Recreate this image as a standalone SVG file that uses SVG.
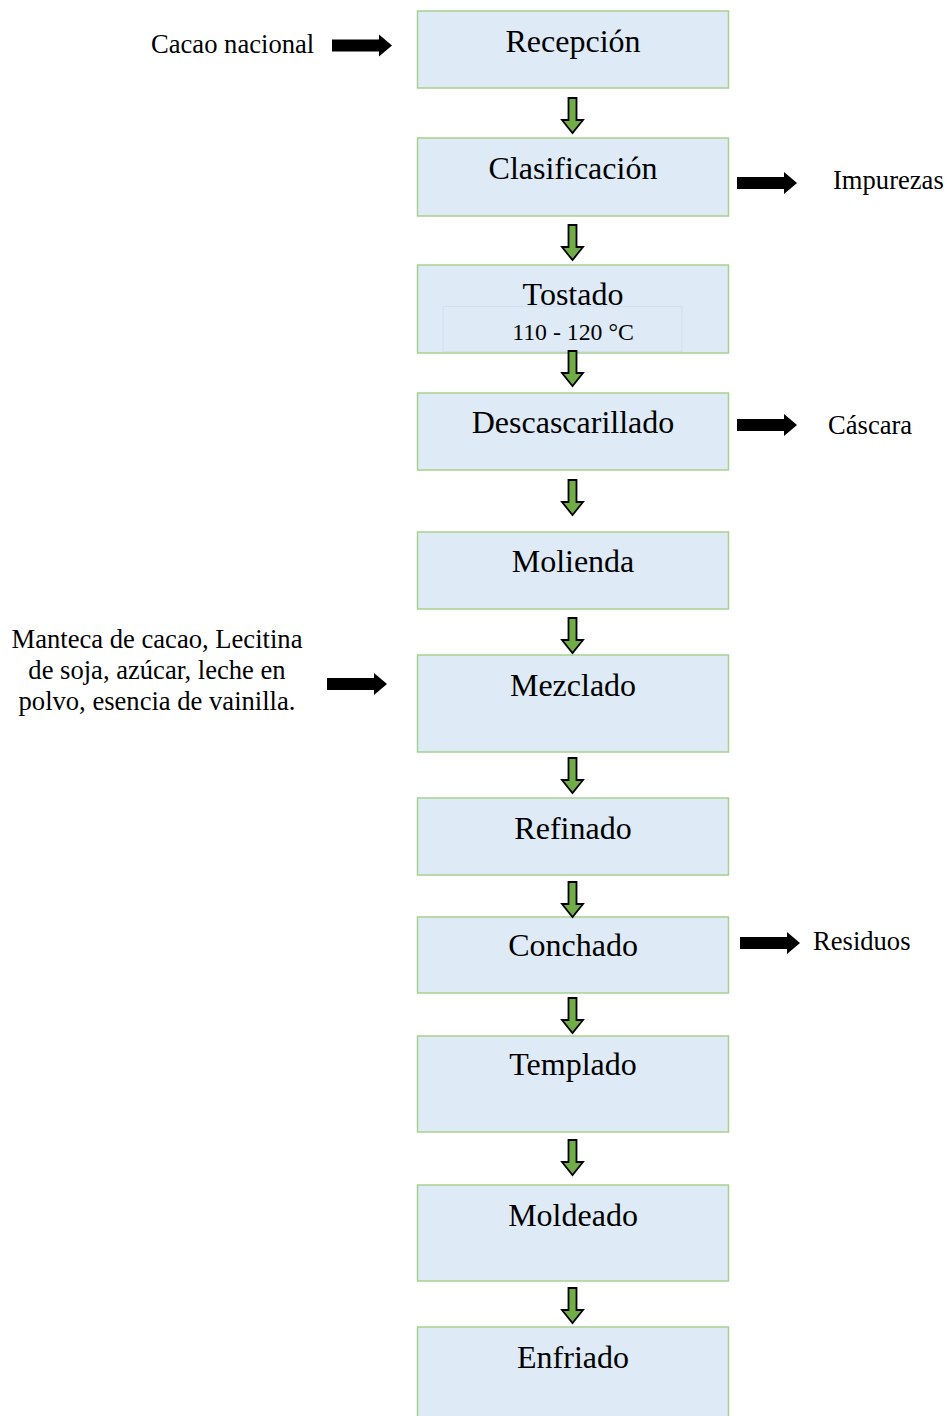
<svg xmlns="http://www.w3.org/2000/svg" xmlns:xlink="http://www.w3.org/1999/xlink" width="948" height="1416" viewBox="0 0 948 1416">
<style>
.box{fill:#DEEAF6;stroke:#A9D18E;stroke-width:1.5}
.inner{fill:none;stroke:#D3E0F0;stroke-width:1.2}
.t{font-family:"Liberation Serif","Times New Roman",serif;font-size:32px;fill:#000;text-anchor:middle}
.sub{font-family:"Liberation Serif","Times New Roman",serif;font-size:23.8px;fill:#000;text-anchor:middle}
.side{font-family:"Liberation Serif","Times New Roman",serif;font-size:26.6px;fill:#000}
.ga{fill:#70AD47;stroke:#000;stroke-width:1.8;stroke-linejoin:miter}
.ba{fill:#000}
</style>
<defs>
<path id="garrow" class="ga" d="M-4,0 H4 V22 H10.5 L0,35 L-10.5,22 H-4 Z"/>
<path id="barrow" class="ba" d="M0,-6 H47 V-11 L60,0 L47,11 V6 H0 Z"/>
</defs>
<rect width="948" height="1416" fill="#fff"/>

<g id="n1"><rect class="box" x="417.5" y="11" width="311" height="77"/><text class="t" x="573" y="52">Recepción</text></g>
<g id="n2"><rect class="box" x="417.5" y="138" width="311" height="78"/><text class="t" x="573" y="179">Clasificación</text></g>
<g id="n3"><rect class="box" x="417.5" y="265" width="311" height="88"/><rect class="inner" x="443" y="306.5" width="239" height="45"/><text class="t" x="573" y="305">Tostado</text><text class="sub" x="573" y="340">110 - 120 °C</text></g>
<g id="n4"><rect class="box" x="417.5" y="393" width="311" height="77"/><text class="t" x="573" y="433">Descascarillado</text></g>
<g id="n5"><rect class="box" x="417.5" y="532" width="311" height="77"/><text class="t" x="573" y="572">Molienda</text></g>
<g id="n6"><rect class="box" x="417.5" y="655" width="311" height="97"/><text class="t" x="573" y="696">Mezclado</text></g>
<g id="n7"><rect class="box" x="417.5" y="798" width="311" height="77"/><text class="t" x="573" y="839">Refinado</text></g>
<g id="n8"><rect class="box" x="417.5" y="917" width="311" height="76"/><text class="t" x="573" y="956">Conchado</text></g>
<g id="n9"><rect class="box" x="417.5" y="1036" width="311" height="96"/><text class="t" x="573" y="1075">Templado</text></g>
<g id="n10"><rect class="box" x="417.5" y="1185" width="311" height="96"/><text class="t" x="573" y="1226">Moldeado</text></g>
<g id="n11"><rect class="box" x="417.5" y="1327" width="311" height="100"/><text class="t" x="573" y="1368">Enfriado</text></g>

<g id="in1"><text class="side" x="151" y="53">Cacao nacional</text></g>
<g id="out1"><text class="side" x="833" y="189">Impurezas</text></g>
<g id="out2"><text class="side" x="828" y="434">Cáscara</text></g>
<g id="in2"><text class="side" text-anchor="middle" x="157" y="648">Manteca de cacao, Lecitina</text><text class="side" text-anchor="middle" x="157" y="679">de soja, azúcar, leche en</text><text class="side" text-anchor="middle" x="157" y="710">polvo, esencia de vainilla.</text></g>
<g id="out3"><text class="side" x="813" y="950">Residuos</text></g>

<g id="connectors">
<use xlink:href="#garrow" href="#garrow" transform="translate(572.5,98)"/>
<use xlink:href="#garrow" href="#garrow" transform="translate(572.5,225)"/>
<use xlink:href="#garrow" href="#garrow" transform="translate(572.5,351)"/>
<use xlink:href="#garrow" href="#garrow" transform="translate(572.5,480)"/>
<use xlink:href="#garrow" href="#garrow" transform="translate(572.5,618)"/>
<use xlink:href="#garrow" href="#garrow" transform="translate(572.5,758)"/>
<use xlink:href="#garrow" href="#garrow" transform="translate(572.5,882)"/>
<use xlink:href="#garrow" href="#garrow" transform="translate(572.5,998)"/>
<use xlink:href="#garrow" href="#garrow" transform="translate(572.5,1140)"/>
<use xlink:href="#garrow" href="#garrow" transform="translate(572.5,1288)"/>
<use xlink:href="#barrow" href="#barrow" transform="translate(332,45.5)"/>
<use xlink:href="#barrow" href="#barrow" transform="translate(737,183)"/>
<use xlink:href="#barrow" href="#barrow" transform="translate(737,425)"/>
<use xlink:href="#barrow" href="#barrow" transform="translate(327,684)"/>
<use xlink:href="#barrow" href="#barrow" transform="translate(740,943)"/>
</g>
</svg>
